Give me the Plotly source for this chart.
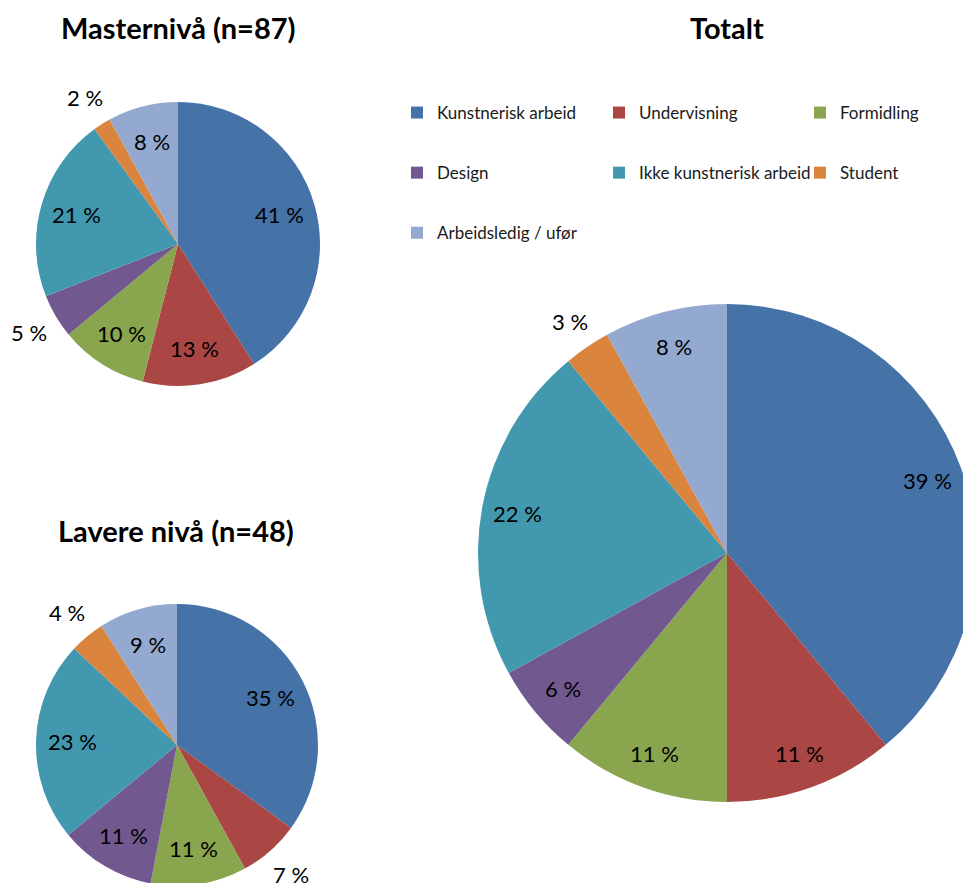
import math
import plotly.graph_objects as go

# ---- data ----
categories = ["Kunstnerisk arbeid", "Undervisning", "Formidling", "Design",
              "Ikke kunstnerisk arbeid", "Student", "Arbeidsledig / ufør"]
master_values = [41, 13, 10, 5, 21, 2, 8]
lavere_values = [35, 7, 11, 11, 23, 4, 9]
totalt_values = [39, 11, 11, 6, 22, 3, 8]
titles = ["Masternivå (n=87)", "Lavere nivå (n=48)", "Totalt"]

colors = ["#4572A7", "#AA4643", "#89A54E", "#71588F", "#4198AF", "#DB843D", "#93A9CF"]

W, H = 971, 883
FONT = "Lato"

def dom(cx, cy, r):
    return dict(x=[(cx - r) / W, (cx + r) / W],
                y=[(H - (cy + r)) / H, (H - (cy - r)) / H])

fig = go.Figure()
ann = []

# (values, centre x, centre y, radius, min value drawn inside, title, title pos)
pies = [
    (master_values, 170, 236, 142, 6, titles[0], (170, 19)),
    (lavere_values, 169, 737, 141, 8, titles[1], (168, 522)),
    (totalt_values, 719, 545, 249, 5, titles[2], (719, 19)),
]
for vals, cx, cy, r, thr, title, (tx, ty) in pies:
    fig.add_trace(go.Pie(
        labels=categories, values=vals, domain=dom(cx, cy, r),
        sort=False, direction="clockwise", rotation=0,
        marker=dict(colors=colors, line=dict(width=0)),
        textinfo="none", showlegend=False, hoverinfo="label+percent",
    ))
    total = float(sum(vals))
    cum = 0.0
    for v in vals:
        mid = (cum + v / 2.0) / total * 2 * math.pi
        cum += v
        rr = r + 31 if v < thr else r - 36
        px = cx + rr * math.sin(mid)
        py = cy - rr * math.cos(mid)
        ann.append(dict(text="%d %%" % v, x=px / W, y=1 - py / H,
                        xref="paper", yref="paper", xanchor="center", yanchor="middle",
                        showarrow=False, font=dict(family=FONT, size=22, color="#000000")))
    ann.append(dict(text="<b>%s</b>" % title, x=tx / W, y=1 - ty / H,
                    xref="paper", yref="paper", xanchor="center", yanchor="middle",
                    showarrow=False, font=dict(family=FONT, size=29, color="#000000")))

# legend: three columns, each item carried by a tiny off-screen pie
columns = [[0, 3, 6], [1, 4], [2, 5]]
legend_names = ["legend", "legend2", "legend3"]
for col, ln in zip(columns, legend_names):
    for i in col:
        fig.add_trace(go.Pie(
            labels=[categories[i]], values=[totalt_values[i]],
            marker=dict(colors=[colors[i]], line=dict(width=0)),
            domain=dict(x=[0, 0.0005], y=[0, 0.0005]),
            sort=False, textinfo="none", hoverinfo="skip",
            showlegend=True, legend=ln, legendgroup=categories[i],
        ))

leg_common = dict(orientation="v", traceorder="grouped", tracegroupgap=35,
                  xanchor="left", yanchor="top", y=1 - 87 / H,
                  font=dict(family=FONT, size=17, color="#1a1a1a"),
                  bgcolor="rgba(0,0,0,0)", borderwidth=0)
col_x = [389, 591, 792]

fig.update_layout(
    width=W, height=H,
    margin=dict(l=0, r=0, t=0, b=0),
    paper_bgcolor="white", plot_bgcolor="white",
    annotations=ann,
    legend=dict(leg_common, x=col_x[0] / W),
    legend2=dict(leg_common, x=col_x[1] / W),
    legend3=dict(leg_common, x=col_x[2] / W),
)

fig.write_html("out.html")
